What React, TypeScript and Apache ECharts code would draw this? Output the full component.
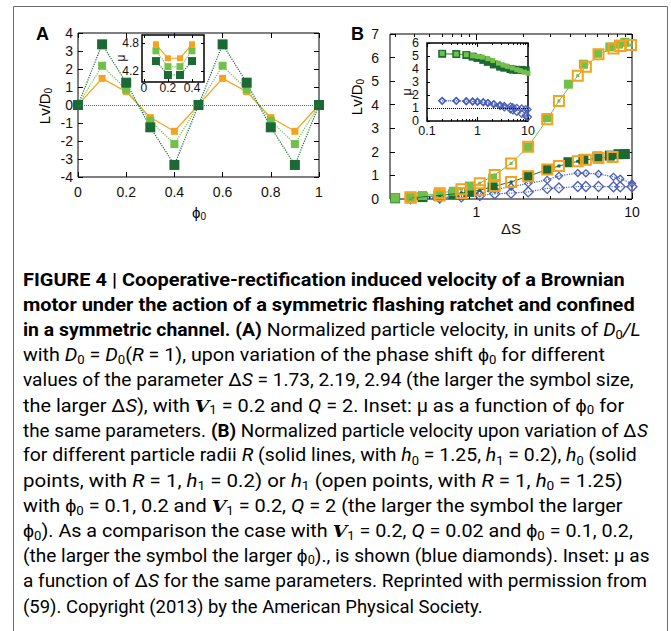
import React, { useEffect, useRef } from 'react';
import * as echarts from 'echarts';

// ---------- Panel A data ----------
const phiA = [0, 0.1, 0.2, 0.3, 0.4, 0.5, 0.6, 0.7, 0.8, 0.9, 1.0];
const velOrangeA = [0, 1.48, 0.74, -0.7, -1.46, 0, 1.48, 0.74, -0.7, -1.46, 0];
const velLightA = [0, 2.18, 0.87, -0.87, -2.17, 0, 2.18, 0.87, -0.87, -2.17, 0];
const velDarkA = [0, 3.37, 1.24, -1.24, -3.33, 0, 3.37, 1.24, -1.24, -3.33, 0];
const phiInsetA = [0.1, 0.2, 0.3, 0.4];
const muOrangeA = [4.77, 4.47, 4.47, 4.77];
const muLightA = [4.63, 4.29, 4.29, 4.63];
const muDarkA = [4.41, 4.11, 4.11, 4.41];

// ---------- Panel B data ----------
const dsOrangeUp = [0.377, 0.58, 0.8, 1.05, 1.31, 1.67, 2.15, 2.85, 3.39, 4.48, 5.05, 6.09, 7.6, 8.4, 9.85];
const velOrangeUp = [0.07, 0.24, 0.41, 0.67, 1.02, 1.51, 2.22, 3.38, 4.16, 5.23, 5.61, 6.14, 6.39, 6.49, 6.53];
const dsOrangeLow = [0.377, 0.58, 0.8, 1.05, 1.31, 1.67, 2.15, 2.85, 3.39, 4.48, 5.05, 6.09, 7.5];
const velOrangeLow = [0.05, 0.15, 0.25, 0.37, 0.55, 0.72, 0.96, 1.25, 1.4, 1.6, 1.66, 1.74, 1.78];
const dsSolid = [0.3, 0.38, 0.45, 0.57, 0.71, 0.9, 1.27, 2.15, 2.85, 3.9, 4.87, 6.0, 7.2, 8.2, 9.0];
const velLightSolid = [0.04, 0.07, 0.15, 0.22, 0.33, 0.55, 0.88, 2.2, 3.45, 4.87, 5.72, 6.18, 6.45, 6.57, 6.65];
const velDarkSolid = [0.03, 0.05, 0.08, 0.13, 0.2, 0.3, 0.5, 0.95, 1.26, 1.56, 1.68, 1.8, 1.84, 1.9, 1.91];
const dsBlue = [0.377, 0.58, 0.8, 1.05, 1.31, 1.67, 2.15, 2.85, 3.39, 4.48, 5.05, 6.09, 7.6, 8.4, 10];
const velBlueUp = [0.01, 0.06, 0.14, 0.24, 0.41, 0.52, 0.66, 0.81, 0.98, 1.1, 1.09, 1.06, 0.94, 0.86, 0.66];
const velBlueLow = [0.01, 0.04, 0.09, 0.15, 0.22, 0.25, 0.3, 0.45, 0.47, 0.53, 0.53, 0.53, 0.52, 0.52, 0.52];

// Panel B inset
const dsInsetDark = [0.2, 0.38, 0.6, 0.8, 1.0, 1.3, 1.6, 2.1, 2.8, 3.4, 4.5, 5.0, 6.0, 7.5, 9.0];
const muDarkB = [5.17, 5.15, 5.07, 4.95, 4.85, 4.7, 4.55, 4.35, 4.18, 4.1, 4.0, 3.95, 3.93, 3.93, 3.9];
const dsInsetLight = [0.2, 0.38, 0.6, 0.8, 1.0, 1.25, 1.6, 2.0, 2.6, 3.2, 3.9, 4.9, 6.0, 7.0, 8.5, 10];
const muLightB = [5.2, 5.15, 5.1, 5.02, 4.97, 4.92, 4.8, 4.65, 4.45, 4.3, 4.2, 4.08, 3.95, 3.87, 3.77, 3.67];
const dsInsetBlue = [0.2, 0.38, 0.6, 0.8, 1.0, 1.3, 1.6, 2.1, 2.8, 3.4, 4.5, 5.0, 6.0, 7.5, 9.0, 10];
const muBlueUp = [1.55, 1.55, 1.52, 1.5, 1.48, 1.45, 1.4, 1.33, 1.25, 1.2, 1.15, 1.1, 1.05, 1.0, 0.95, 0.88];
const muBlueLow = [1.55, 1.55, 1.52, 1.5, 1.48, 1.44, 1.38, 1.28, 1.15, 1.05, 0.9, 0.82, 0.7, 0.55, 0.4, 0.3];

// tick labels
const logMajorMain = [1, 10];
const logMinorMain = [0.3, 0.4, 0.5, 0.6, 0.7, 0.8, 0.9, 2, 3, 4, 5, 6, 7, 8, 9];
const logMajorInset = [0.1, 1, 10];
const logMinorInset = [0.2, 0.3, 0.4, 0.5, 0.6, 0.7, 0.8, 0.9, 2, 3, 4, 5, 6, 7, 8, 9];
const insetAX = [0, 0.2, 0.4];
const insetAY = [4.2, 4.8];

// ---------- Caption ----------
type Seg = [string, string];
const CAPTION: Seg[][] = [
  [['b', 'FIGURE 4 | Cooperative-rectification induced velocity of a Brownian']],
  [['b', 'motor under the action of a symmetric flashing ratchet and confined']],
  [['b', 'in a symmetric channel. (A) '], ['n', 'Normalized particle velocity, in units of '], ['i', 'D'], ['s', '0'], ['i', '/L']],
  [['n', 'with '], ['i', 'D'], ['s', '0'], ['n', ' = '], ['i', 'D'], ['s', '0'], ['n', '('], ['i', 'R'], ['n', ' = 1), upon variation of the phase shift ϕ'], ['s', '0'], ['n', ' for different']],
  [['n', 'values of the parameter Δ'], ['i', 'S'], ['n', ' = 1.73, 2.19, 2.94 (the larger the symbol size,']],
  [['n', 'the larger Δ'], ['i', 'S'], ['n', '), with '], ['v', 'V'], ['s', '1'], ['n', ' = 0.2 and '], ['i', 'Q'], ['n', ' = 2. Inset: μ as a function of ϕ'], ['s', '0'], ['n', ' for']],
  [['n', 'the same parameters. '], ['b', '(B)'], ['n', ' Normalized particle velocity upon variation of Δ'], ['i', 'S']],
  [['n', 'for different particle radii '], ['i', 'R'], ['n', ' (solid lines, with '], ['i', 'h'], ['s', '0'], ['n', ' = 1.25, '], ['i', 'h'], ['s', '1'], ['n', ' = 0.2), '], ['i', 'h'], ['s', '0'], ['n', ' (solid']],
  [['n', 'points, with '], ['i', 'R'], ['n', ' = 1, '], ['i', 'h'], ['s', '1'], ['n', ' = 0.2) or '], ['i', 'h'], ['s', '1'], ['n', ' (open points, with '], ['i', 'R'], ['n', ' = 1, '], ['i', 'h'], ['s', '0'], ['n', ' = 1.25)']],
  [['n', 'with ϕ'], ['s', '0'], ['n', ' = 0.1, 0.2 and '], ['v', 'V'], ['s', '1'], ['n', ' = 0.2, '], ['i', 'Q'], ['n', ' = 2 (the larger the symbol the larger']],
  [['n', 'ϕ'], ['s', '0'], ['n', '). As a comparison the case with '], ['v', 'V'], ['s', '1'], ['n', ' = 0.2, '], ['i', 'Q'], ['n', ' = 0.02 and ϕ'], ['s', '0'], ['n', ' = 0.1, 0.2,']],
  [['n', '(the larger the symbol the larger ϕ'], ['s', '0'], ['n', ')., is shown (blue diamonds). Inset: μ as']],
  [['n', 'a function of Δ'], ['i', 'S'], ['n', ' for the same parameters. Reprinted with permission from']],
  [['n', '('], ['l', '59'], ['n', '). Copyright (2013) by the American Physical Society.']],
];
const CAPTION_RIGHT = [625, 635, 641, 605, 634, 624, 648, 637, 623, 623, 633, 650, 647, 483];

const FONT = '"Liberation Sans", Arial, sans-serif';
const CAPF = 'Roboto, "Liberation Sans", sans-serif';
const TXT = '#231f20';
const C_OR = '#f6a21e';
const C_LG = '#72c04a';
const C_DG = '#1b6a36';
const C_BL = '#4a60b6';

const CAP_RICH: Record<string, any> = {
  b: { fontFamily: CAPF, fontSize: 18, fontWeight: 'bold', color: TXT, lineHeight: 24 },
  n: { fontFamily: CAPF, fontSize: 18, color: TXT, lineHeight: 24 },
  i: { fontFamily: CAPF, fontSize: 18, fontStyle: 'italic', color: TXT, lineHeight: 24 },
  s: { fontFamily: CAPF, fontSize: 12, color: TXT, lineHeight: 12, padding: [9, 0, 0, 0] },
  v: { fontFamily: '"DejaVu Serif", serif', fontSize: 17, fontWeight: 'bold', fontStyle: 'italic', color: TXT, lineHeight: 24 },
  l: { fontFamily: CAPF, fontSize: 18, color: '#e0a45c', lineHeight: 24 },
};

const zip = (xs: number[], ys: number[]) => xs.map((x, i) => [x, ys[i]]);

function measure(segs: Seg[]): number {
  const ctx = document.createElement('canvas').getContext('2d')!;
  let w = 0;
  for (const [k, t] of segs) {
    const st = CAP_RICH[k];
    ctx.font = `${st.fontStyle || 'normal'} ${st.fontWeight || 'normal'} ${st.fontSize}px ${st.fontFamily}`;
    w += ctx.measureText(t).width;
  }
  return w;
}

function axis(grid: number, position: string, scale: any, o: any = {}) {
  return {
    gridIndex: grid,
    position,
    ...scale,
    axisLine: { show: false, onZero: false },
    splitLine: { show: false },
    axisTick: {
      show: !o.labels, inside: true, length: o.tickLen ?? 5,
      lineStyle: { color: '#000', width: 1 },
      ...(o.tickValues ? { customValues: o.tickValues } : {}),
    },
    axisLabel: {
      show: !!o.labels, fontSize: o.labelSize ?? 14, color: '#111', fontFamily: FONT,
      margin: o.margin ?? 8,
      ...(o.labelValues ? { customValues: o.labelValues } : {}),
      ...(o.formatter ? { formatter: o.formatter } : {}),
    },
  };
}

function line(xi: number, yi: number, data: number[][], color: string, o: any = {}) {
  return {
    type: 'line', xAxisIndex: xi, yAxisIndex: yi, data,
    symbol: o.symbol ?? 'rect', symbolSize: o.size ?? 6, showSymbol: true,
    lineStyle: { color: o.lineColor ?? color, width: o.lw ?? 1, type: o.dash ?? 'solid' },
    itemStyle: o.open
      ? { color: 'transparent', borderColor: color, borderWidth: o.bw ?? 1.3, opacity: 1 }
      : { color, opacity: 1 },
    z: o.z ?? 2, silent: true,
    ...(o.markLine ? { markLine: o.markLine } : {}),
  };
}

function scatter(xi: number, yi: number, data: number[][], color: string, o: any = {}) {
  return {
    type: 'scatter', xAxisIndex: xi, yAxisIndex: yi, data,
    symbol: o.symbol ?? 'rect', symbolSize: o.size ?? 8,
    itemStyle: o.open
      ? { color: 'transparent', borderColor: color, borderWidth: o.bw ?? 2, opacity: 1 }
      : { color, opacity: 1 },
    z: o.z ?? 3, silent: true,
  };
}

function richLabel(main: string, sub: string, size: number) {
  return {
    text: `{m|${main}}{s|${sub}}`,
    rich: {
      m: { fontFamily: FONT, fontSize: size, color: '#111', lineHeight: size + 4 },
      s: { fontFamily: FONT, fontSize: Math.round(size * 0.68), color: '#111', lineHeight: 10, padding: [Math.round(size * 0.55), 0, 0, 0] },
    },
  };
}

function buildOption() {
  const lnum = (v: number) => String(v);
  const sA = { type: 'value', min: 0, max: 1, interval: 0.2 };
  const sAi = { type: 'value', min: -0.016, max: 0.5 };
  const sB = { type: 'log', logBase: 10, min: 0.278, max: 10 };
  const sBi = { type: 'log', logBase: 10, min: 0.1, max: 10 };
  const yA = { type: 'value', min: -4, max: 4, interval: 1 };
  const yAi = { type: 'value', min: 3.96, max: 4.97 };
  const yB = { type: 'value', min: 0, max: 7, interval: 1 };
  const yBi = { type: 'value', min: 0, max: 6, interval: 1 };
  const xAxis = [
    // labelled axes (no ticks) used by series
    axis(0, 'bottom', sA, { labels: true, margin: 8 }),
    axis(1, 'bottom', sAi, { labels: true, labelSize: 12, margin: 0, labelValues: insetAX, formatter: lnum }),
    axis(2, 'bottom', sB, { labels: true, margin: 6, labelValues: logMajorMain, formatter: lnum }),
    axis(3, 'bottom', sBi, { labels: true, labelSize: 12.5, margin: 3.5, labelValues: logMajorInset, formatter: lnum }),
    // tick-only axes
    axis(0, 'bottom', sA),
    axis(0, 'top', sA),
    axis(1, 'bottom', sAi, { tickLen: 3, tickValues: insetAX }),
    axis(1, 'top', sAi, { tickLen: 3, tickValues: insetAX }),
    axis(2, 'bottom', sB, { tickLen: 6, tickValues: logMajorMain }),
    axis(2, 'bottom', sB, { tickLen: 3, tickValues: logMinorMain }),
    axis(2, 'top', sB, { tickLen: 6, tickValues: logMajorMain }),
    axis(2, 'top', sB, { tickLen: 3, tickValues: logMinorMain }),
    axis(3, 'bottom', sBi, { tickLen: 4, tickValues: logMajorInset }),
    axis(3, 'bottom', sBi, { tickLen: 2, tickValues: logMinorInset }),
    axis(3, 'top', sBi, { tickLen: 4, tickValues: logMajorInset }),
    axis(3, 'top', sBi, { tickLen: 2, tickValues: logMinorInset }),
  ];
  const yAxis = [
    axis(0, 'left', yA, { labels: true, margin: 5 }),
    axis(1, 'left', yAi, { labels: true, labelSize: 12, margin: 3, labelValues: insetAY, formatter: (v: number) => v.toFixed(1) }),
    axis(2, 'left', yB, { labels: true, margin: 11 }),
    axis(3, 'left', yBi, { labels: true, labelSize: 12.5, margin: 8 }),
    axis(0, 'left', yA),
    axis(0, 'right', yA),
    axis(1, 'left', yAi, { tickLen: 3, tickValues: insetAY }),
    axis(1, 'right', yAi, { tickLen: 3, tickValues: insetAY }),
    axis(2, 'left', yB),
    axis(2, 'right', yB),
    axis(3, 'left', yBi, { tickLen: 3 }),
    axis(3, 'right', yBi, { tickLen: 3 }),
  ];
  const grid = [
    { left: 78, top: 33, width: 241, height: 144, show: true, backgroundColor: '#fff', borderColor: '#000', borderWidth: 1 },
    { left: 142, top: 35, width: 62, height: 47, show: true, backgroundColor: '#fff', borderColor: '#000', borderWidth: 1.5 },
    { left: 390, top: 34, width: 242, height: 165, show: true, backgroundColor: '#fff', borderColor: '#000', borderWidth: 1 },
    { left: 427, top: 43, width: 101, height: 78, show: true, backgroundColor: '#fff', borderColor: '#000', borderWidth: 1.5 },
  ];

  const zeroLine = {
    silent: true, symbol: 'none', label: { show: false },
    lineStyle: { color: '#666', type: 'dotted', width: 1 },
    data: [{ yAxis: 0 }],
  };
  const oneLine = {
    silent: true, symbol: 'none', label: { show: false },
    lineStyle: { color: '#000', type: 'dotted', width: 1 },
    data: [{ yAxis: 1 }],
  };

  const series = [
    // Panel A
    line(0, 0, zip(phiA, velOrangeA), C_OR, { size: 7, lw: 1.2, markLine: zeroLine }),
    line(0, 0, zip(phiA, velLightA), C_LG, { size: 8, dash: 'dotted', lw: 1.2 }),
    line(0, 0, zip(phiA, velDarkA), C_DG, { size: 10, dash: 'dotted', lw: 1.2 }),
    // Panel A inset
    line(1, 1, zip(phiInsetA, muOrangeA), C_OR, { size: 6, lw: 1.2 }),
    line(1, 1, zip(phiInsetA, muLightA), C_LG, { size: 7, dash: 'dotted', lw: 1.2 }),
    line(1, 1, zip(phiInsetA, muDarkA), C_DG, { size: 8, dash: 'dotted', lw: 1.2 }),
    // Panel B
    line(2, 2, zip(dsBlue, velBlueLow), C_BL, { symbol: 'diamond', size: 10, open: true, dash: 'dotted', lw: 1.2 }),
    line(2, 2, zip(dsBlue, velBlueUp), C_BL, { symbol: 'diamond', size: 7, open: true, dash: 'dotted', lw: 1.2 }),
    scatter(2, 2, zip(dsSolid, velDarkSolid), C_DG, { size: 10 }),
    scatter(2, 2, zip(dsSolid, velLightSolid), C_LG, { size: 9 }),
    line(2, 2, zip(dsOrangeLow, velOrangeLow), C_DG, { size: 3, lw: 1, z: 4 }),
    line(2, 2, zip(dsOrangeUp, velOrangeUp), C_LG, { size: 3, lw: 1, z: 4 }),
    scatter(2, 2, zip(dsOrangeLow, velOrangeLow), C_OR, { size: 10, open: true, z: 5 }),
    scatter(2, 2, zip(dsOrangeUp, velOrangeUp), C_OR, { size: 10, open: true, z: 5 }),
    // Panel B inset
    line(3, 3, zip(dsInsetBlue, muBlueUp), C_BL, { symbol: 'diamond', size: 6, open: true, dash: 'dotted', lw: 1, markLine: oneLine }),
    line(3, 3, zip(dsInsetBlue, muBlueLow), C_BL, { symbol: 'diamond', size: 7, open: true, dash: 'dotted', lw: 1 }),
    line(3, 3, zip(dsInsetDark, muDarkB), C_DG, { size: 8, lw: 1 }),
    line(3, 3, zip(dsInsetLight, muLightB), C_LG, { size: 5, lw: 1 }),
  ];

  const elements: any[] = [
    { type: 'rect', shape: { x: 13.5, y: 6.5, width: 654, height: 700 }, style: { fill: 'none', stroke: '#6b6b6b', lineWidth: 1 }, silent: true },
    { type: 'text', x: 36, y: 34, style: { text: 'A', fontFamily: FONT, fontWeight: 'bold', fontSize: 18, fill: '#000', verticalAlign: 'middle' } },
    { type: 'text', x: 351, y: 34, style: { text: 'B', fontFamily: FONT, fontWeight: 'bold', fontSize: 18, fill: '#000', verticalAlign: 'middle' } },
    { type: 'text', x: 44, y: 106, rotation: Math.PI / 2, style: { ...richLabel('Lv/D', '0', 15), align: 'center', verticalAlign: 'middle' } },
    { type: 'text', x: 356, y: 97, rotation: Math.PI / 2, style: { ...richLabel('Lv/D', '0', 15), align: 'center', verticalAlign: 'middle' } },
    { type: 'text', x: 199, y: 212, style: { ...richLabel('ϕ', '0', 15), align: 'center', verticalAlign: 'middle' } },
    { type: 'text', x: 511, y: 228, style: { text: 'ΔS', fontFamily: FONT, fontSize: 15, fill: '#111', align: 'center', verticalAlign: 'middle' } },
    { type: 'text', x: 121, y: 58, rotation: Math.PI / 2, style: { text: 'μ', fontFamily: FONT, fontSize: 12, fill: '#111', align: 'center', verticalAlign: 'middle' } },
    { type: 'text', x: 407, y: 92, rotation: Math.PI / 2, style: { text: 'μ', fontFamily: FONT, fontSize: 12.5, fill: '#111', align: 'center', verticalAlign: 'middle' } },
  ];

  const left = 23;
  CAPTION.forEach((segs, i) => {
    const natural = measure(segs);
    const sx = (CAPTION_RIGHT[i] - left) / natural;
    elements.push({
      type: 'text', x: left, y: 280 + i * 25.1, scaleX: sx, scaleY: 1,
      style: {
        text: segs.map(([k, t]) => `{${k}|${t}}`).join(''),
        rich: CAP_RICH, align: 'left', verticalAlign: 'middle',
      },
      silent: true,
    });
  });

  return {
    animation: false,
    backgroundColor: '#fff',
    grid, xAxis, yAxis, series,
    graphic: { elements },
  };
}

export default function App() {
  const ref = useRef<HTMLDivElement>(null);
  useEffect(() => {
    document.body.style.margin = '0';
    document.body.style.overflow = 'hidden';
    const chart = echarts.init(ref.current!, null, { renderer: 'svg' });
    chart.setOption(buildOption() as any);
    return () => chart.dispose();
  }, []);
  return <div ref={ref} style={{ width: 671, height: 631 }} />;
}
